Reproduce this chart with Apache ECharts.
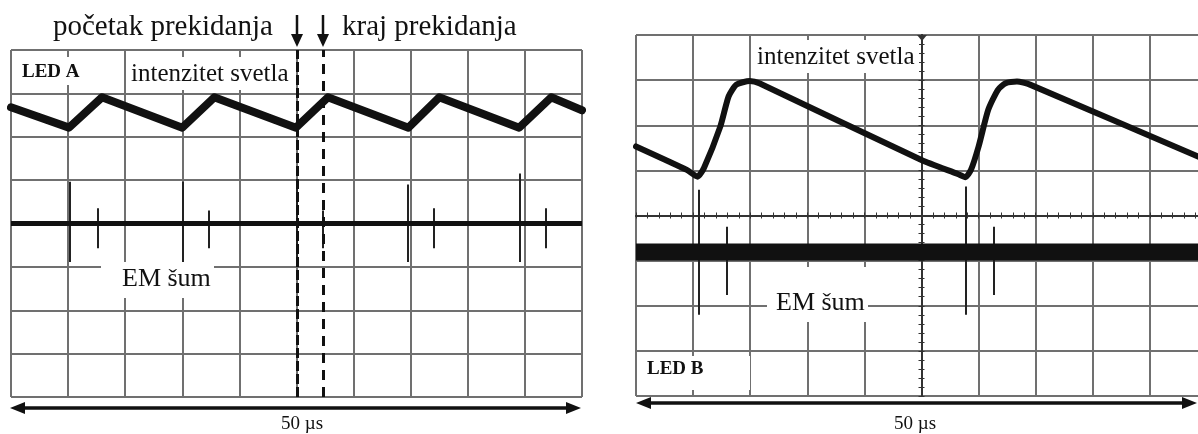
<!DOCTYPE html>
<html>
<head>
<meta charset="utf-8">
<script src="https://cdn.jsdelivr.net/npm/echarts@6/dist/echarts.min.js"></script>
<style>
  html, body { margin: 0; padding: 0; background: #fff; }
  #chart { width: 1198px; height: 434px; }
</style>
</head>
<body>
<div id="chart"></div>
<script>
// ---------- data (time in µs, amplitude in screen divisions 0..8) ----------
const ledA_t = [0, 5.08, 7.97, 15.0, 17.8, 24.95, 27.75, 34.8, 37.5, 44.5, 47.3, 50];
const ledA_v = [6.68, 6.21, 6.91, 6.21, 6.91, 6.21, 6.91, 6.21, 6.91, 6.21, 6.91, 6.61];
const noiseA_level = 4.0;
const spikeA_t   = [5.12, 7.62, 15.06, 17.34, 25.04, 27.32, 34.76, 37.04, 44.57, 46.85];
const spikeA_top = [4.96, 4.35, 4.96, 4.30, 4.90, 4.30, 4.90, 4.35, 5.15, 4.35];
const spikeA_bot = [3.11, 3.43, 3.11, 3.43, 3.11, 3.43, 3.11, 3.43, 3.11, 3.43];
const switchA_t  = [25.04, 27.32];

const ledB_t = [0, 4.45, 5.39, 5.96, 7.38, 8.11, 8.79, 9.96, 10.8, 25.0, 28.18, 28.85, 29.33, 30.0, 30.84, 31.68, 32.36, 33.36, 34.5, 50];
const ledB_v = [5.53, 5.01, 4.86, 5.06, 5.97, 6.64, 6.90, 6.98, 6.93, 5.23, 4.92, 4.85, 5.01, 5.53, 6.34, 6.78, 6.93, 6.97, 6.90, 5.22];
const noiseB_level = 3.19;
const spikeB_t   = [5.52, 7.97, 28.9, 31.35];
const spikeB_top = [4.57, 3.75, 4.64, 3.75];
const spikeB_bot = [1.80, 2.24, 1.80, 2.24];

const timeSpanLabel = '50 µs';
const X_MIN = 0, X_MAX = 50, X_DIV = 5;
const Y_MIN = 0, Y_MAX = 8, Y_DIV = 1;

// ---------- helpers ----------
const zip = (a, b) => a.map((v, i) => [v, b[i]]);
const spikes = (t, top, bot) => t.map((v, i) => ({ coords: [[v, top[i]], [v, bot[i]]] }));
const SERIF = "'Liberation Serif', 'Times New Roman', serif";
const GRID_COLOR = '#707070';
const INK = '#111';

function mainX(g) {
  return { gridIndex: g, type: 'value', min: X_MIN, max: X_MAX, interval: X_DIV,
    axisLine: { show: false }, axisTick: { show: false }, axisLabel: { show: false },
    splitLine: { show: true, lineStyle: { color: GRID_COLOR, width: 2 } } };
}
function mainY(g) {
  return { gridIndex: g, type: 'value', min: Y_MIN, max: Y_MAX, interval: Y_DIV,
    axisLine: { show: false }, axisTick: { show: false }, axisLabel: { show: false },
    splitLine: { show: true, lineStyle: { color: GRID_COLOR, width: 2 } } };
}
function centerAxis(g, min, max, interval, zeroIdx, inside) {
  return { gridIndex: g, type: 'value', min: min, max: max, interval: interval,
    axisLine: { show: true, onZero: true, onZeroAxisIndex: zeroIdx, lineStyle: { color: '#333', width: 2 } },
    axisTick: { show: true, inside: inside, length: 3, lineStyle: { color: '#333', width: 1 } },
    minorTick: { show: true, splitNumber: 5, length: 3, lineStyle: { color: '#333', width: 1 } },
    axisLabel: { show: false }, splitLine: { show: false } };
}
function hiddenAxis(g, min, max) {
  return { gridIndex: g, type: 'value', min: min, max: max, show: false,
    axisLine: { show: false, onZero: false }, splitLine: { show: false } };
}

const chart = echarts.init(document.getElementById('chart'), null, { renderer: 'canvas' });

const graphicEls = [];
function rect(x, y, w, h) {
  graphicEls.push({ type: 'rect', z: 50, shape: { x: x, y: y, width: w, height: h }, style: { fill: '#fff' } });
}
function text(str, x, y, size, bold, align) {
  graphicEls.push({ type: 'text', z: 60, x: x, y: y,
    style: { text: str, font: (bold ? 'bold ' : '') + size + 'px ' + SERIF, fill: INK,
      textAlign: align || 'left', textVerticalAlign: 'middle', align: align || 'left', verticalAlign: 'middle' } });
}
function hArrow(x1, x2, y) {
  graphicEls.push({ type: 'line', z: 60, shape: { x1: x1 + 10, y1: y, x2: x2 - 10, y2: y }, style: { stroke: INK, lineWidth: 3.5 } });
  graphicEls.push({ type: 'polygon', z: 60, shape: { points: [[x1, y], [x1 + 15, y - 6], [x1 + 15, y + 6]] }, style: { fill: INK } });
  graphicEls.push({ type: 'polygon', z: 60, shape: { points: [[x2, y], [x2 - 15, y - 6], [x2 - 15, y + 6]] }, style: { fill: INK } });
}
function downArrow(x, y1, y2) {
  graphicEls.push({ type: 'line', z: 60, shape: { x1: x, y1: y1, x2: x, y2: y2 - 8 }, style: { stroke: INK, lineWidth: 2.5 } });
  graphicEls.push({ type: 'polygon', z: 60, shape: { points: [[x - 6, y2 - 13], [x + 6, y2 - 13], [x, y2]] }, style: { fill: INK } });
}

// label boxes (white) and labels
rect(13, 57, 72, 28);   text('LED A', 22, 72, 19, true);
rect(128, 57, 168, 33); text('intenzitet svetla', 131, 74, 25, false);
rect(101, 262, 113, 36); text('EM šum', 122, 279, 26, false);
rect(752, 40, 167, 33); text('intenzitet svetla', 757, 57, 25, false);
rect(767, 267, 101, 55); text('EM šum', 776, 303, 26, false);
rect(637, 356, 113, 34); text('LED B', 647, 369, 19, true);

text('početak prekidanja', 53, 27, 29, false);
text('kraj prekidanja', 342, 27, 29, false);
downArrow(297, 15, 47);
downArrow(323, 15, 47);

hArrow(10, 581, 408);
hArrow(636, 1197, 403);
text(timeSpanLabel, 302, 424, 19, false, 'center');
text(timeSpanLabel, 915, 424, 19, false, 'center');

graphicEls.push({ type: 'polygon', z: 60, shape: { points: [[917, 35], [927, 35], [922, 41]] }, style: { fill: '#333' } });

const option = {
  animation: false,
  backgroundColor: '#fff',
  grid: [
    { left: 11, top: 50, width: 571, height: 347, outerBoundsMode: 'none', containLabel: false },
    { left: 636, top: 35, width: 571, height: 361, outerBoundsMode: 'none', containLabel: false }
  ],
  xAxis: [
    mainX(0),                                   // 0
    mainX(1),                                   // 1
    hiddenAxis(1, -25, 25),                     // 2 reference for centre y line
    centerAxis(1, X_MIN, X_MAX, X_DIV, 2, true),  // 3 centre horizontal line (ticks one side)
    centerAxis(1, X_MIN, X_MAX, X_DIV, 2, false)  // 4 centre horizontal line (ticks other side)
  ],
  yAxis: [
    mainY(0),                                   // 0
    mainY(1),                                   // 1
    hiddenAxis(1, -4, 4),                       // 2 reference for centre x line
    centerAxis(1, Y_MIN, Y_MAX, Y_DIV, 2, true),  // 3
    centerAxis(1, Y_MIN, Y_MAX, Y_DIV, 2, false)  // 4
  ],
  series: [
    { name: 'LED A EM šum', type: 'line', xAxisIndex: 0, yAxisIndex: 0, symbol: 'none', z: 3,
      data: [[X_MIN, noiseA_level], [X_MAX, noiseA_level]],
      lineStyle: { color: INK, width: 5 } },
    { name: 'LED A šiljci', type: 'lines', coordinateSystem: 'cartesian2d', xAxisIndex: 0, yAxisIndex: 0, z: 3,
      data: spikes(spikeA_t, spikeA_top, spikeA_bot),
      lineStyle: { color: '#222', width: 2, opacity: 1 } },
    { name: 'LED A intenzitet svetla', type: 'line', xAxisIndex: 0, yAxisIndex: 0, symbol: 'none', z: 4,
      data: zip(ledA_t, ledA_v),
      lineStyle: { color: INK, width: 8, join: 'round', cap: 'round' },
      markLine: { silent: true, symbol: ['none', 'none'], label: { show: false },
        lineStyle: { color: INK, width: 3 },
        data: [
          { xAxis: switchA_t[0], lineStyle: { type: [10, 3], color: INK, width: 3 } },
          { xAxis: switchA_t[1], lineStyle: { type: [10, 7], color: INK, width: 3 } }
        ] } },
    { name: 'LED B EM šum', type: 'line', xAxisIndex: 1, yAxisIndex: 1, symbol: 'none', z: 3,
      data: [[X_MIN, noiseB_level], [X_MAX, noiseB_level]],
      lineStyle: { color: INK, width: 17 } },
    { name: 'LED B šiljci', type: 'lines', coordinateSystem: 'cartesian2d', xAxisIndex: 1, yAxisIndex: 1, z: 3,
      data: spikes(spikeB_t, spikeB_top, spikeB_bot),
      lineStyle: { color: '#222', width: 2, opacity: 1 } },
    { name: 'LED B intenzitet svetla', type: 'line', xAxisIndex: 1, yAxisIndex: 1, symbol: 'none', z: 4,
      data: zip(ledB_t, ledB_v), smooth: 0.2,
      lineStyle: { color: INK, width: 6, join: 'round', cap: 'round' } }
  ],
  graphic: { elements: graphicEls }
};
chart.setOption(option);
</script>
</body>
</html>
